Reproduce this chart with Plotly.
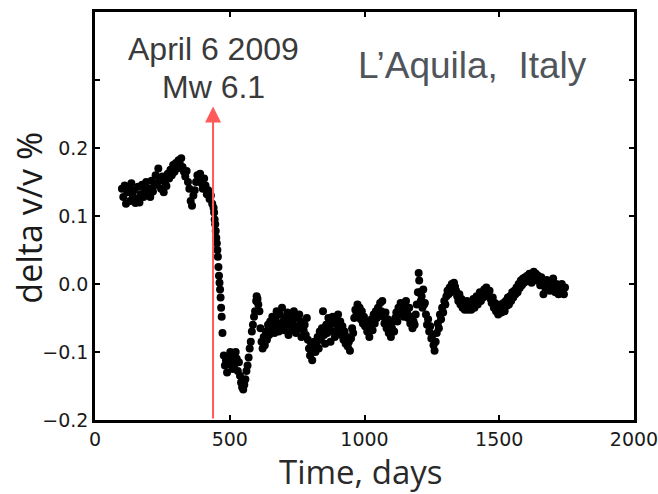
import plotly.graph_objects as go

# ---- data (days, delta v/v %) ----
days_pre = [100, 105, 110, 115, 120, 125, 130, 135, 140, 145, 150, 155, 160, 165, 170, 175, 180, 185, 190, 195,
            200, 205, 210, 215, 220, 225, 230, 235, 240, 245, 250, 255, 260, 265, 270, 275, 280, 285, 290, 295,
            300, 305, 310, 315, 320, 325, 330, 335, 340, 345, 350, 355, 360, 365, 370, 375, 380, 385, 390, 395,
            400, 405, 410, 415, 420, 425, 430, 435, 440]
dvv_pre = [0.140, 0.128, 0.145, 0.118, 0.135, 0.142, 0.122, 0.148, 0.130, 0.138, 0.119, 0.125, 0.143, 0.120, 0.132,
           0.146, 0.128, 0.137, 0.150, 0.133, 0.140, 0.128, 0.152, 0.136, 0.145, 0.160, 0.148, 0.170, 0.152, 0.140,
           0.158, 0.135, 0.150, 0.144, 0.162, 0.155, 0.168, 0.160, 0.175, 0.165, 0.178, 0.170, 0.182, 0.176, 0.185,
           0.172, 0.165, 0.158, 0.166, 0.150, 0.140, 0.122, 0.115, 0.130, 0.138, 0.150, 0.160, 0.155, 0.162, 0.148,
           0.140, 0.155, 0.145, 0.132, 0.138, 0.125, 0.130, 0.118, 0.112]

days_drop = [442, 444, 446, 448, 450, 452, 454, 456, 458, 460, 462, 464, 466, 468, 470, 473]
dvv_drop = [0.105, 0.095, 0.088, 0.078, 0.068, 0.060, 0.050, 0.040, 0.025, 0.012, 0.002, -0.008, -0.020, -0.035,
            -0.048, -0.072]

days_low = [478, 482, 486, 490, 494, 498, 502, 506, 510, 514, 518, 522, 526, 530, 534, 538, 542, 546, 550, 554,
            558, 562, 566, 570, 574, 578, 582, 586, 590, 594, 598, 600, 603, 606, 610]
dvv_low = [-0.105, -0.120, -0.112, -0.130, -0.108, -0.118, -0.100, -0.112, -0.125, -0.105, -0.118, -0.100, -0.110,
           -0.128, -0.115, -0.135, -0.145, -0.152, -0.155, -0.148, -0.140, -0.128, -0.120, -0.108, -0.095, -0.085,
           -0.070, -0.060, -0.048, -0.040, -0.025, -0.018, -0.022, -0.030, -0.040]

days_mid = [614, 618, 622, 626, 630, 634, 638, 642, 646, 650, 654, 658, 662, 666, 670, 674, 678, 682, 686, 690,
            694, 698, 702, 706, 710, 714, 718, 722, 726, 730, 734, 738, 742, 746, 750, 754, 758, 762, 766, 770,
            774, 778, 782, 786, 790, 794, 798, 802, 806, 810, 814, 818, 822, 826, 830, 834, 838, 842, 846, 850,
            854, 858, 862, 866, 870, 874, 878, 882, 886, 890, 894, 898, 902, 906, 910, 914, 918, 922, 926, 930,
            934, 938, 942, 946, 950, 954, 958, 962, 966, 970, 974, 978, 982, 986, 990, 994]
dvv_mid = [-0.065, -0.085, -0.095, -0.078, -0.090, -0.070, -0.082, -0.060, -0.075, -0.055, -0.068, -0.048, -0.062,
           -0.072, -0.052, -0.040, -0.058, -0.070, -0.045, -0.062, -0.035, -0.055, -0.068, -0.050, -0.060, -0.042,
           -0.075, -0.055, -0.048, -0.068, -0.058, -0.040, -0.062, -0.072, -0.050, -0.065, -0.045, -0.060, -0.078,
           -0.055, -0.068, -0.060, -0.075, -0.050, -0.082, -0.095, -0.105, -0.088, -0.112, -0.098, -0.085, -0.100,
           -0.090, -0.078, -0.095, -0.070, -0.082, -0.065, -0.040, -0.075, -0.088, -0.060, -0.072, -0.050, -0.065,
           -0.085, -0.058, -0.048, -0.070, -0.078, -0.055, -0.060, -0.045, -0.068, -0.055, -0.075, -0.062, -0.082,
           -0.070, -0.088, -0.078, -0.092, -0.085, -0.098, -0.080, -0.065, -0.072, -0.050, -0.038, -0.045, -0.030,
           -0.042, -0.035, -0.052, -0.040, -0.058]

days_late = [998, 1002, 1006, 1010, 1014, 1018, 1022, 1026, 1030, 1034, 1038, 1042, 1046, 1050, 1054, 1058, 1062,
             1066, 1070, 1074, 1078, 1082, 1086, 1090, 1094, 1098, 1102, 1106, 1110, 1114, 1118, 1122, 1126, 1130,
             1134, 1138, 1142, 1146, 1150, 1154, 1158, 1162, 1166, 1170, 1174, 1178, 1182, 1186, 1190, 1194, 1198,
             1201, 1203, 1206, 1209, 1212, 1215, 1218, 1221, 1224, 1228, 1232, 1236, 1240, 1244, 1248, 1252, 1256,
             1260, 1264, 1268, 1272, 1276, 1280, 1284, 1288, 1292, 1296, 1300, 1304, 1308, 1312, 1316, 1320, 1324,
             1328, 1332, 1336]
dvv_late = [-0.048, -0.062, -0.055, -0.070, -0.060, -0.078, -0.065, -0.052, -0.068, -0.045, -0.058, -0.040, -0.050,
            -0.035, -0.045, -0.028, -0.040, -0.025, -0.048, -0.058, -0.042, -0.065, -0.052, -0.072, -0.060, -0.078,
            -0.065, -0.055, -0.070, -0.050, -0.042, -0.055, -0.035, -0.045, -0.028, -0.040, -0.032, -0.048, -0.038,
            -0.025, -0.042, -0.050, -0.035, -0.058, -0.048, -0.065, -0.055, -0.060, -0.045, -0.030, -0.012,
            0.016, 0.005, -0.012, -0.025, -0.018, -0.035, -0.008, -0.030, -0.028, -0.045, -0.060, -0.052, -0.070,
            -0.062, -0.080, -0.075, -0.090, -0.098, -0.085, -0.072, -0.058, -0.065, -0.045, -0.052, -0.035, -0.042,
            -0.025, -0.030, -0.018, -0.010, -0.015, -0.005, -0.012, 0.000, -0.008, 0.002, -0.004]

days_end = [1340, 1344, 1348, 1352, 1356, 1360, 1364, 1368, 1372, 1376, 1380, 1384, 1388, 1392, 1396, 1400, 1404,
            1408, 1412, 1416, 1420, 1424, 1428, 1432, 1436, 1440, 1444, 1448, 1452, 1456, 1460, 1464, 1468, 1472,
            1476, 1480, 1484, 1488, 1492, 1496, 1500, 1504, 1508, 1512, 1516, 1520, 1524, 1528, 1532, 1536, 1540,
            1544, 1548, 1552, 1556, 1560, 1564, 1568, 1572, 1576, 1580, 1584, 1588, 1592, 1596, 1600, 1604, 1608,
            1612, 1616, 1620, 1624, 1628, 1632, 1636, 1640, 1644, 1648, 1652, 1656, 1660, 1664, 1668, 1672, 1676,
            1680, 1684, 1688, 1692, 1696, 1700, 1704, 1708, 1712, 1716, 1720, 1724, 1728, 1732, 1736, 1740, 1744]
dvv_end = [-0.010, -0.018, -0.025, -0.015, -0.030, -0.022, -0.035, -0.028, -0.038, -0.030, -0.025, -0.038, -0.032,
           -0.028, -0.038, -0.030, -0.022, -0.035, -0.028, -0.018, -0.030, -0.022, -0.012, -0.025, -0.015, -0.020,
           -0.008, -0.015, -0.005, -0.012, -0.018, -0.010, -0.022, -0.028, -0.020, -0.035, -0.028, -0.040, -0.032,
           -0.045, -0.038, -0.030, -0.042, -0.035, -0.028, -0.040, -0.025, -0.032, -0.020, -0.030, -0.018, -0.025,
           -0.012, -0.020, -0.010, -0.015, -0.005, -0.012, 0.000, -0.006, 0.005, -0.002, 0.008, 0.002, 0.010,
           0.004, 0.012, 0.006, 0.015, 0.008, 0.002, 0.012, 0.018, 0.010, 0.015, 0.005, 0.012, 0.008, -0.002,
           0.010, 0.004, -0.015, 0.000, -0.008, 0.006, -0.004, 0.002, -0.010, 0.004, -0.006, 0.008, -0.002, -0.012,
           0.000, -0.008, -0.015, -0.005, -0.012, 0.000, -0.008, -0.015, -0.005]

quake_day = 438
arrow_tip = 0.261
x_ticks = [0, 500, 1000, 1500, 2000]
y_ticks = [-0.2, -0.1, 0.0, 0.1, 0.2, 0.3]
y_tick_text = ["\u22120.2", "\u22120.1", "0.0", "0.1", "0.2", ""]

days = days_pre + days_drop + days_low + days_mid + days_late + days_end
dvv = dvv_pre + dvv_drop + dvv_low + dvv_mid + dvv_late + dvv_end

fig = go.Figure()
fig.add_trace(go.Scatter(x=days, y=dvv, mode="markers",
                         marker=dict(color="black", size=8, line=dict(width=0)),
                         showlegend=False, hoverinfo="skip"))

fig.add_annotation(x=quake_day, y=arrow_tip, ax=quake_day, ay=-0.2, axref="x", ayref="y",
                   xref="x", yref="y", text="", showarrow=True, arrowhead=2, arrowsize=1.6,
                   arrowwidth=2, arrowcolor="#ff5a5a", standoff=0, startstandoff=0)

label_font = dict(family="Liberation Sans, Arial", size=32, color="#3a3a3a")
fig.add_annotation(x=quake_day, y=0.345, xref="x", yref="y", text="April 6 2009",
                   showarrow=False, font=label_font, yanchor="middle")
fig.add_annotation(x=quake_day, y=0.289, xref="x", yref="y", text="Mw 6.1",
                   showarrow=False, font=label_font, yanchor="middle")
fig.add_annotation(x=1400, y=0.322, xref="x", yref="y", text="L\u2019Aquila,  Italy",
                   showarrow=False, font=dict(family="Liberation Sans, Arial", size=37, color="#50555b"))

# axis titles
fig.add_annotation(x=-0.1224, y=0.496, xref="paper", yref="paper", text="delta v/v %", textangle=-90,
                   showarrow=False, xanchor="center", yanchor="middle",
                   font=dict(family="Open Sans", size=34, color="#1a1a1a"))
fig.add_annotation(x=0.4944, y=-0.125, xref="paper", yref="paper", text="Time, days",
                   showarrow=False, xanchor="center", yanchor="middle",
                   font=dict(family="Open Sans", size=33, color="#2a2a2a"))

axis_common = dict(showline=True, linecolor="black", linewidth=2.5, mirror="ticks",
                   ticks="inside", ticklen=5, tickwidth=1.5, tickcolor="black",
                   showgrid=False, zeroline=False, ticklabeloverflow="allow", automargin=False,
                   tickfont=dict(family="DejaVu Sans", size=19, color="#1a1a1a"))

fig.update_xaxes(range=[0, 2000], tickvals=x_ticks, ticktext=[str(v) for v in x_ticks], **axis_common)
fig.update_yaxes(range=[-0.2, 0.4], tickvals=y_ticks, ticktext=y_tick_text, **axis_common)

fig.update_layout(width=658, height=494, margin=dict(l=95, r=24, t=12, b=74, autoexpand=False),
                  plot_bgcolor="white", paper_bgcolor="white")

fig.write_html("out.html")
